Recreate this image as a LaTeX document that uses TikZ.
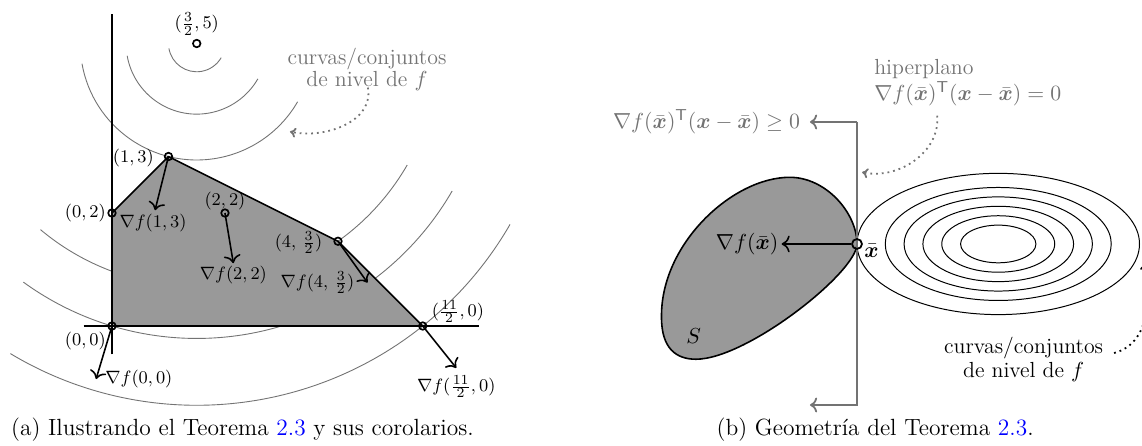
\documentclass[tikz,border=0pt]{standalone}
\usepackage{amsmath}
\usepackage{bm}
\usetikzlibrary{arrows.meta}
\begin{document}
\begin{tikzpicture}[
  lab/.style={font=\fontsize{9.5}{11}\selectfont, inner sep=1.5pt},
  txt/.style={font=\fontsize{11}{13.2}\selectfont},
  captext/.style={font=\fontsize{11.8}{14}\selectfont},
  pt/.style={circle, draw, line width=0.85pt, minimum size=3.8pt, inner sep=0pt},
  ptb/.style={circle, draw, line width=0.9pt, minimum size=5pt, inner sep=0pt},
  grad/.style={-{To[scale=1.2]}, thick},
  levelc/.style={draw=black!55, line width=0.45pt},
  region/.style={fill=black!40, draw=black, thick, line join=round},
  note/.style={dotted, line width=0.9pt, -{To[length=3pt,width=5pt]}},
  hyper/.style={draw=black!55, line width=0.9pt},
]
\clip (0,0) rectangle (20.2124,7.876);

% ================= (a) =================
\begin{scope}[shift={(1.982,2.106)}]
  % level curves
  \foreach \r/\a in {0.5/190, 1.25/190, 2.0616/190, 4.3012/230, 5.2202/234, 6.4031/239}{
    \draw[levelc] (1.5,5) ++(\a:\r) arc[start angle=\a, end angle=330, radius=\r];
  }
  % feasible region
  \coordinate (c00) at (0,0);
  \coordinate (c02) at (0,2);
  \coordinate (c13) at (1,3);
  \coordinate (c42) at (4,1.5);
  \coordinate (c110) at (5.5,0);
  \path[region] (c00) -- (c02) -- (c13) -- (c42) -- (c110) -- cycle;
  % axes
  \coordinate (xl) at (-0.5,0); \coordinate (xr) at (6.5,0);
  \coordinate (yb) at (0,-0.5); \coordinate (yt) at (0,5.52);
  \draw[thick] (xl) -- (xr);
  \draw[thick] (yb) -- (yt);
  % gradient tips
  \coordinate (t00) at (-0.2873*0.98,-0.9578*0.98);
  \coordinate (t13) at (1-0.2425*0.98,3-0.9701*0.98);
  \coordinate (t22) at (2+0.1644*0.9,2-0.9864*0.9);
  \coordinate (t42) at (4+0.5812*0.9,1.5-0.8137*0.9);
  \coordinate (t110) at (5.5+0.6247*0.95,-0.7809*0.95);
  % points
  \node[pt] (p00) at (c00) {};
  \node[pt] (p02) at (c02) {};
  \node[pt] (p13) at (c13) {};
  \node[pt] (p22) at (2,2) {};
  \node[pt] (p42) at (c42) {};
  \node[pt] (p110) at (c110) {};
  \node[pt] (p35) at (1.5,5) {};
  % gradient arrows
  \draw[grad] (p00.center) -- (t00);
  \draw[grad] (p13.center) -- (t13);
  \draw[grad] (p22.center) -- (t22);
  \draw[grad] (p42.center) -- (t42);
  \draw[grad] (p110.center) -- (t110);
  % labels of points
  \node[lab, anchor=north east] (l00) at (-0.05,-0.05) {$(0,0)$};
  \node[lab, anchor=east] (l02) at (-0.05,2) {$(0,2)$};
  \node[lab, anchor=east] (l13) at (0.80,2.98) {$(1,3)$};
  \node[lab, anchor=south] (l22) at (2,2.0) {$(2,2)$};
  \node[lab, anchor=east] (l42) at (3.78,1.48) {$(4,\,\frac{3}{2})$};
  \node[lab, anchor=south west] (l110) at (5.6,0.0) {$(\frac{11}{2},0)$};
  \node[lab, anchor=south] (l35) at (1.5,5.09) {$(\frac{3}{2},5)$};
  % labels of gradients
  \node[lab, anchor=west] (g00) at ([xshift=3pt]t00) {$\nabla f(0,0)$};
  \node[lab, anchor=north] (g13) at ([xshift=-1pt]t13) {$\nabla f(1,3)$};
  \node[lab, anchor=north] (g22) at (t22) {$\nabla f(2,2)$};
  \node[lab, anchor=east] (g42) at ([xshift=-5pt]t42) {$\nabla f(4,\,\frac{3}{2})$};
  \node[lab, anchor=north] (g110) at ([yshift=-2pt]t110) {$\nabla f(\frac{11}{2},0)$};
  % level-set note
  \node[font=\fontsize{11}{10}\selectfont, text=black!55, align=center] (na) at (4.513,4.54) {curvas/conjuntos\\de nivel de $f$};
  \coordinate (na1) at (4.53,4.22);
  \coordinate (na2) at (3.15,3.44);
  \draw[note, draw=black!55] (na1) to[out=-80, in=-12] (na2);
\end{scope}

% ================= (b) =================
\begin{scope}[shift={(15.168,3.558)}]
  % set S
  \draw[region] (0,0) .. controls (0,0.55) and (-0.55,1.18) .. (-1.19,1.18)
    .. controls (-2.2,1.18) and (-3.48,0.0) .. (-3.46,-1.30)
    .. controls (-3.46,-1.85) and (-3.2,-2.04) .. (-2.85,-2.04)
    .. controls (-1.95,-2.04) and (0,-0.5) .. (0,0) -- cycle;
  \node[txt] (S) at (-2.89,-1.63) {$S$};
  % level ellipses
  \foreach \r in {0.33333,0.5,0.66667,0.83333,1,1.25}{
    \draw[line width=0.5pt] (2.5,0) ellipse [x radius=2*\r, y radius=\r];
  }
  % hyperplane
  \coordinate (hT) at (0,2.159);
  \coordinate (hB) at (0,-2.850);
  \coordinate (hTL) at (-0.832,2.159);
  \coordinate (hBL) at (-0.832,-2.850);
  \draw[hyper, ->] (hT) -- (hTL);
  \draw[hyper, ->] (hT) -- (hB) -- (hBL);
  \node[txt, text=black!55, anchor=east] (ge) at ([xshift=-1.5pt]hTL) {$\nabla f(\bar{\bm{x}})^{\mathsf{T}}(\bm{x}-\bar{\bm{x}})\geq 0$};
  \node[txt, text=black!55, align=left, anchor=west, inner sep=0pt] (hp) at (0.30,2.86)
    {hiperplano\\$\nabla f(\bar{\bm{x}})^{\mathsf{T}}(\bm{x}-\bar{\bm{x}})=0$};
  \coordinate (hp1) at (1.42,2.27);
  \coordinate (hp2) at (0.09,1.27);
  \draw[note, draw=black!55] (hp1) to[out=-85, in=-12] (hp2);
  % point and gradient
  \node[ptb] (xb) at (0,0) {};
  \coordinate (gt) at (-1.333,0);
  \draw[grad] (xb) -- (gt);
  \node[txt, anchor=east, inner sep=1.5pt] (gl) at (gt) {$\nabla f(\bar{\bm{x}})$};
  \node[txt, anchor=west, inner sep=1pt] (xl) at (0.09,-0.12) {$\bar{\bm{x}}$};
  % level-set note
  \node[font=\fontsize{11}{12}\selectfont, align=center] (nb) at (2.95,-2.04) {curvas/conjuntos\\de nivel de $f$};
  \coordinate (nb1) at (4.55,-1.93);
  \coordinate (nb2) at (5.08,-0.34);
  \draw[note] (nb1) to[out=15, in=-80] (nb2);
\end{scope}

% captions
\node[captext] (capa) at (4.292,0.27) {(a) Ilustrando el Teorema \textcolor{blue}{2.3} y sus corolarios.};
\node[captext] (capb) at (15.49,0.27) {(b) Geometría del Teorema \textcolor{blue}{2.3}.};
\end{tikzpicture}
\end{document}
